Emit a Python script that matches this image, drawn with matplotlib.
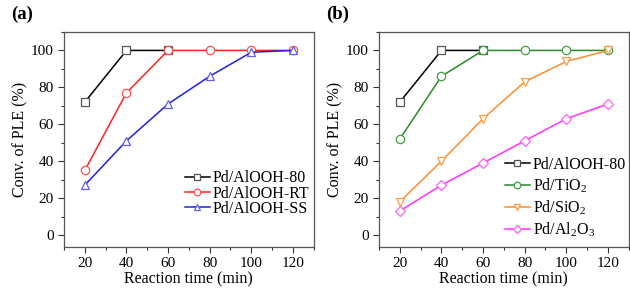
import matplotlib
matplotlib.use("Agg")
import matplotlib.pyplot as plt
from matplotlib.ticker import MultipleLocator

plt.rcParams['font.family'] = ['Liberation Serif', 'DejaVu Serif']
plt.rcParams['mathtext.fontset'] = 'custom'
plt.rcParams['mathtext.rm'] = 'Liberation Serif'

time = [20, 40, 60, 80, 100, 120]
time_80 = [20, 40, 60]

a_80 = [72, 100, 100]
a_rt = [35, 77, 100, 100, 100, 100]
a_ss = [27, 51, 71, 86, 99, 100]

b_80 = [72, 100, 100]
b_tio2 = [52, 86, 100, 100, 100, 100]
b_sio2 = [18, 40, 63, 83, 94, 100]
b_al2o3 = [13, 27, 39, 51, 63, 71]

fig = plt.figure(figsize=(6.3, 2.88), dpi=100)
ax1 = fig.add_axes([0.1016, 0.1424, 0.3964, 0.7466])
ax2 = fig.add_axes([0.6016, 0.1424, 0.3964, 0.7466])

mk = dict(markerfacecolor='white', markersize=6, linewidth=1.1, markeredgewidth=0.9)

ax1.plot(time_80, a_80, color='black', marker='s', markeredgecolor='#555555',
         label='Pd/AlOOH-80', **mk)
ax1.plot(time, a_rt, color='#ff2020', marker='o', markeredgecolor='#ff5050',
         label='Pd/AlOOH-RT', **mk)
ax1.plot(time, a_ss, color='#2020e0', marker='^', markeredgecolor='#6060f0',
         label='Pd/AlOOH-SS', **mk)

ax2.plot(time_80, b_80, color='black', marker='s', markeredgecolor='#555555',
         label='Pd/AlOOH-80', **mk)
ax2.plot(time, b_tio2, color='#2a8a2a', marker='o', markeredgecolor='#40a040',
         label='Pd/TiO$_2$', **mk)
ax2.plot(time, b_sio2, color='#ff8c30', marker='v', markeredgecolor='#ff9a40',
         label='Pd/SiO$_2$', **mk)
ax2.plot(time, b_al2o3, color='#ff30ff', marker='D', markeredgecolor='#ff60ff',
         label='Pd/Al$_2$O$_3$', markerfacecolor='white', markersize=5.5,
         linewidth=1.1, markeredgewidth=0.9)

for ax, tag in [(ax1, '(a)'), (ax2, '(b)')]:
    ax.set_xlim(10, 130)
    ax.set_ylim(-6.5, 110)
    ax.xaxis.set_major_locator(MultipleLocator(20))
    ax.xaxis.set_minor_locator(MultipleLocator(10))
    ax.yaxis.set_major_locator(MultipleLocator(20))
    ax.yaxis.set_minor_locator(MultipleLocator(10))
    ax.tick_params(which='both', direction='out', top=False, right=False,
                   labelsize=11, color='#333333')
    ax.tick_params(which='major', length=4, width=0.8)
    ax.tick_params(which='minor', length=2.5, width=0.8)
    for s in ax.spines.values():
        s.set_color('#555555')
        s.set_linewidth(0.9)
    ax.set_xlabel('Reaction time (min)', fontsize=11.5, labelpad=1)
    ax.set_ylabel('Conv. of PLE (%)', fontsize=11.5, labelpad=2)
    ax.text(-0.21, 1.04, tag, transform=ax.transAxes, fontsize=13.5,
            fontweight='bold', family='Liberation Serif', ha='left', va='bottom')

ax1.legend(loc='center left', frameon=False, fontsize=11.5, handlelength=1.55,
           handletextpad=0.2, labelspacing=-0.05, borderpad=0, borderaxespad=0,
           markerscale=0.8, bbox_to_anchor=(0.484, 0.248))
ax2.legend(loc='center left', frameon=False, fontsize=11.5, handlelength=1.55,
           handletextpad=0.2, labelspacing=0.22, borderpad=0, borderaxespad=0,
           markerscale=0.8, bbox_to_anchor=(0.504, 0.228))

fig.savefig('out.png', dpi=100)
